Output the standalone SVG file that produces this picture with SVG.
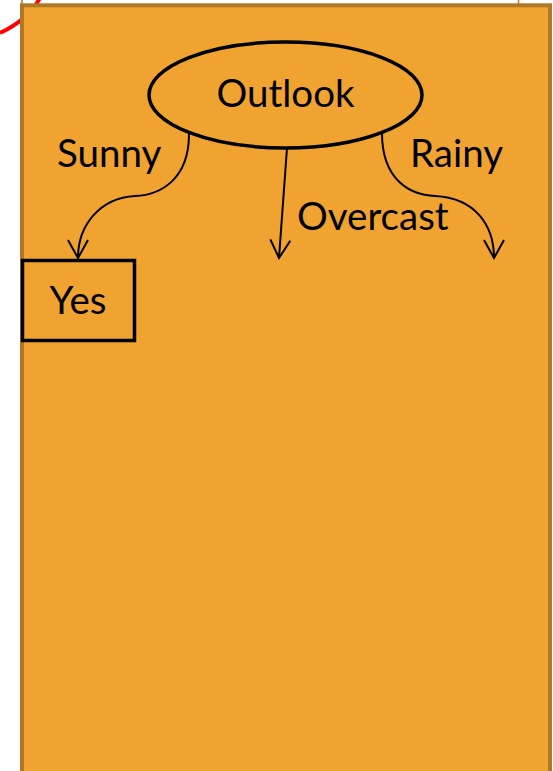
<svg xmlns="http://www.w3.org/2000/svg" width="553" height="771" viewBox="0 0 553 771">
<style>
.lbl{font-family:Lato,"Open Sans","Liberation Sans",sans-serif;font-size:38.5px;fill:#000}
.edge{fill:none;stroke:#000;stroke-width:2}
</style>
<defs>
<marker id="arr" markerUnits="userSpaceOnUse" markerWidth="40" markerHeight="40" viewBox="-20 -20 40 40" refX="0" refY="0" orient="auto">
<path d="M-18,-10 L0,0 L-18,10" fill="none" stroke="#000" stroke-width="2"/>
</marker>
</defs>
<rect width="553" height="771" fill="#fff"/>
<g id="background">
<path d="M0,33 C15,26 30,16 40,-2" fill="none" stroke="#f00" stroke-width="4"/>
<line x1="22" y1="0" x2="22" y2="5" stroke="#B87A20" stroke-width="1.5"/>
<line x1="518.5" y1="0" x2="518.5" y2="5" stroke="#B87A20" stroke-width="1.5"/>
<rect x="22" y="5.3" width="528" height="800" fill="#F0A330" stroke="#B07826" stroke-width="4"/>
</g>
<g id="connectors">
<path class="edge" d="M189,134 C189,180 160,195 135,196 C100,198 78,225 78,258" marker-end="url(#arr)"/>
<path class="edge" d="M287,148 L279,258" marker-end="url(#arr)"/>
<path class="edge" d="M382,133 C382,180 410,195 435,196 C475,198 494,225 494,258" marker-end="url(#arr)"/>
</g>
<g id="labels">
<text class="lbl" x="57" y="167">Sunny</text>
<text class="lbl" x="410" y="167">Rainy</text>
<text class="lbl" x="297" y="230">Overcast</text>
</g>
<g id="node-outlook">
<ellipse cx="285.5" cy="95" rx="136.5" ry="53" fill="#F0A330" stroke="#000" stroke-width="3.5"/>
<text class="lbl" x="285.5" y="107" text-anchor="middle">Outlook</text>
</g>
<g id="node-yes">
<rect x="22.5" y="260.5" width="112" height="80" fill="#F0A330" stroke="#000" stroke-width="3.5"/>
<text class="lbl" x="78" y="314" text-anchor="middle">Yes</text>
</g>
</svg>
